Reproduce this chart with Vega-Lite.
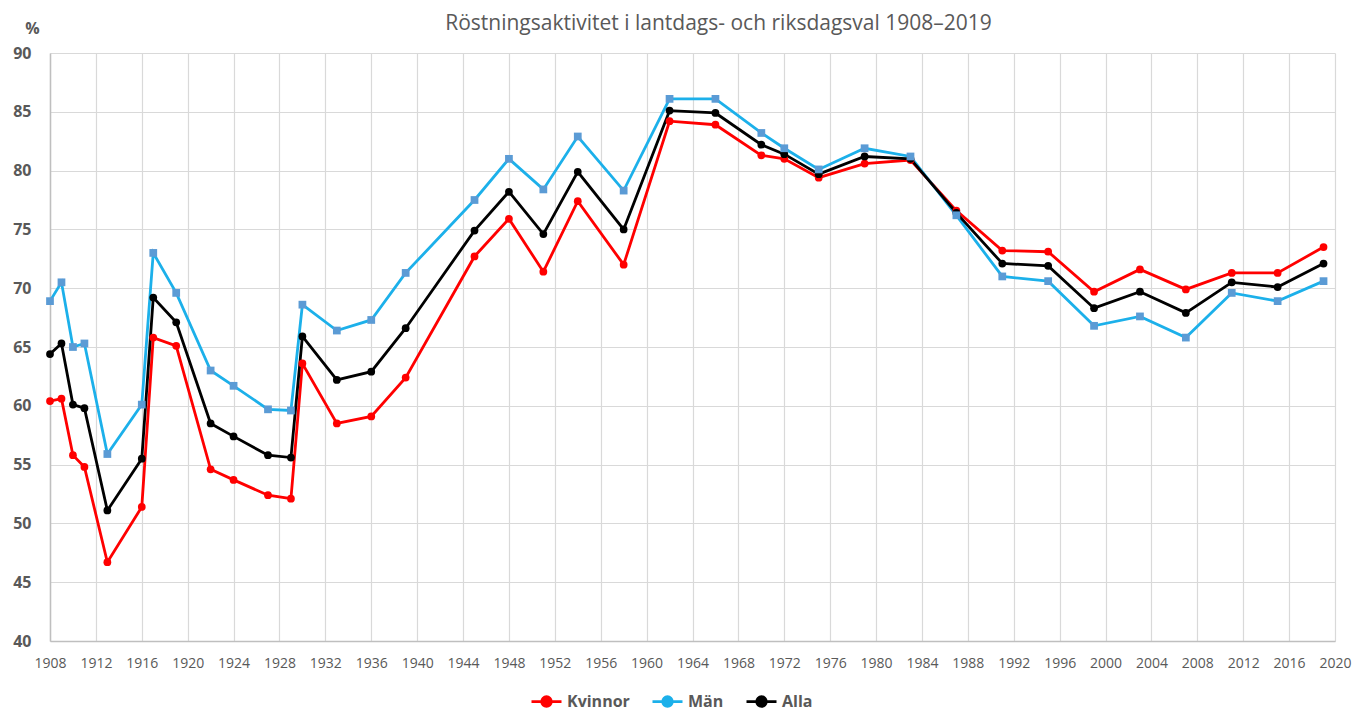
{
  "$schema": "https://vega.github.io/schema/vega-lite/v6.json",
  "width": 1285,
  "height": 588,
  "autosize": {"type": "none"},
  "padding": {"left": 50, "top": 53, "right": 33, "bottom": 70},
  "background": "white",
  "title": {
    "text": "Röstningsaktivitet i lantdags- och riksdagsval 1908–2019",
    "font": "Open Sans",
    "fontSize": 21,
    "fontWeight": "normal",
    "color": "#595959",
    "dx": 26,
    "offset": -14
  },
  "config": {
    "view": {"stroke": null},
    "font": "Open Sans"
  },
  "data": {
    "values": [
      {"year": 1908, "group": "Kvinnor", "value": 60.4}, {"year": 1908, "group": "Män", "value": 68.9}, {"year": 1908, "group": "Alla", "value": 64.4},
      {"year": 1909, "group": "Kvinnor", "value": 60.6}, {"year": 1909, "group": "Män", "value": 70.5}, {"year": 1909, "group": "Alla", "value": 65.3},
      {"year": 1910, "group": "Kvinnor", "value": 55.8}, {"year": 1910, "group": "Män", "value": 65.0}, {"year": 1910, "group": "Alla", "value": 60.1},
      {"year": 1911, "group": "Kvinnor", "value": 54.8}, {"year": 1911, "group": "Män", "value": 65.3}, {"year": 1911, "group": "Alla", "value": 59.8},
      {"year": 1913, "group": "Kvinnor", "value": 46.7}, {"year": 1913, "group": "Män", "value": 55.9}, {"year": 1913, "group": "Alla", "value": 51.1},
      {"year": 1916, "group": "Kvinnor", "value": 51.4}, {"year": 1916, "group": "Män", "value": 60.1}, {"year": 1916, "group": "Alla", "value": 55.5},
      {"year": 1917, "group": "Kvinnor", "value": 65.8}, {"year": 1917, "group": "Män", "value": 73.0}, {"year": 1917, "group": "Alla", "value": 69.2},
      {"year": 1919, "group": "Kvinnor", "value": 65.1}, {"year": 1919, "group": "Män", "value": 69.6}, {"year": 1919, "group": "Alla", "value": 67.1},
      {"year": 1922, "group": "Kvinnor", "value": 54.6}, {"year": 1922, "group": "Män", "value": 63.0}, {"year": 1922, "group": "Alla", "value": 58.5},
      {"year": 1924, "group": "Kvinnor", "value": 53.7}, {"year": 1924, "group": "Män", "value": 61.7}, {"year": 1924, "group": "Alla", "value": 57.4},
      {"year": 1927, "group": "Kvinnor", "value": 52.4}, {"year": 1927, "group": "Män", "value": 59.7}, {"year": 1927, "group": "Alla", "value": 55.8},
      {"year": 1929, "group": "Kvinnor", "value": 52.1}, {"year": 1929, "group": "Män", "value": 59.6}, {"year": 1929, "group": "Alla", "value": 55.6},
      {"year": 1930, "group": "Kvinnor", "value": 63.6}, {"year": 1930, "group": "Män", "value": 68.6}, {"year": 1930, "group": "Alla", "value": 65.9},
      {"year": 1933, "group": "Kvinnor", "value": 58.5}, {"year": 1933, "group": "Män", "value": 66.4}, {"year": 1933, "group": "Alla", "value": 62.2},
      {"year": 1936, "group": "Kvinnor", "value": 59.1}, {"year": 1936, "group": "Män", "value": 67.3}, {"year": 1936, "group": "Alla", "value": 62.9},
      {"year": 1939, "group": "Kvinnor", "value": 62.4}, {"year": 1939, "group": "Män", "value": 71.3}, {"year": 1939, "group": "Alla", "value": 66.6},
      {"year": 1945, "group": "Kvinnor", "value": 72.7}, {"year": 1945, "group": "Män", "value": 77.5}, {"year": 1945, "group": "Alla", "value": 74.9},
      {"year": 1948, "group": "Kvinnor", "value": 75.9}, {"year": 1948, "group": "Män", "value": 81.0}, {"year": 1948, "group": "Alla", "value": 78.2},
      {"year": 1951, "group": "Kvinnor", "value": 71.4}, {"year": 1951, "group": "Män", "value": 78.4}, {"year": 1951, "group": "Alla", "value": 74.6},
      {"year": 1954, "group": "Kvinnor", "value": 77.4}, {"year": 1954, "group": "Män", "value": 82.9}, {"year": 1954, "group": "Alla", "value": 79.9},
      {"year": 1958, "group": "Kvinnor", "value": 72.0}, {"year": 1958, "group": "Män", "value": 78.3}, {"year": 1958, "group": "Alla", "value": 75.0},
      {"year": 1962, "group": "Kvinnor", "value": 84.2}, {"year": 1962, "group": "Män", "value": 86.1}, {"year": 1962, "group": "Alla", "value": 85.1},
      {"year": 1966, "group": "Kvinnor", "value": 83.9}, {"year": 1966, "group": "Män", "value": 86.1}, {"year": 1966, "group": "Alla", "value": 84.9},
      {"year": 1970, "group": "Kvinnor", "value": 81.3}, {"year": 1970, "group": "Män", "value": 83.2}, {"year": 1970, "group": "Alla", "value": 82.2},
      {"year": 1972, "group": "Kvinnor", "value": 81.0}, {"year": 1972, "group": "Män", "value": 81.9}, {"year": 1972, "group": "Alla", "value": 81.4},
      {"year": 1975, "group": "Kvinnor", "value": 79.4}, {"year": 1975, "group": "Män", "value": 80.1}, {"year": 1975, "group": "Alla", "value": 79.7},
      {"year": 1979, "group": "Kvinnor", "value": 80.6}, {"year": 1979, "group": "Män", "value": 81.9}, {"year": 1979, "group": "Alla", "value": 81.2},
      {"year": 1983, "group": "Kvinnor", "value": 80.9}, {"year": 1983, "group": "Män", "value": 81.2}, {"year": 1983, "group": "Alla", "value": 81.0},
      {"year": 1987, "group": "Kvinnor", "value": 76.6}, {"year": 1987, "group": "Män", "value": 76.2}, {"year": 1987, "group": "Alla", "value": 76.4},
      {"year": 1991, "group": "Kvinnor", "value": 73.2}, {"year": 1991, "group": "Män", "value": 71.0}, {"year": 1991, "group": "Alla", "value": 72.1},
      {"year": 1995, "group": "Kvinnor", "value": 73.1}, {"year": 1995, "group": "Män", "value": 70.6}, {"year": 1995, "group": "Alla", "value": 71.9},
      {"year": 1999, "group": "Kvinnor", "value": 69.7}, {"year": 1999, "group": "Män", "value": 66.8}, {"year": 1999, "group": "Alla", "value": 68.3},
      {"year": 2003, "group": "Kvinnor", "value": 71.6}, {"year": 2003, "group": "Män", "value": 67.6}, {"year": 2003, "group": "Alla", "value": 69.7},
      {"year": 2007, "group": "Kvinnor", "value": 69.9}, {"year": 2007, "group": "Män", "value": 65.8}, {"year": 2007, "group": "Alla", "value": 67.9},
      {"year": 2011, "group": "Kvinnor", "value": 71.3}, {"year": 2011, "group": "Män", "value": 69.6}, {"year": 2011, "group": "Alla", "value": 70.5},
      {"year": 2015, "group": "Kvinnor", "value": 71.3}, {"year": 2015, "group": "Män", "value": 68.9}, {"year": 2015, "group": "Alla", "value": 70.1},
      {"year": 2019, "group": "Kvinnor", "value": 73.5}, {"year": 2019, "group": "Män", "value": 70.6}, {"year": 2019, "group": "Alla", "value": 72.1}
    ]
  },
  "encoding": {
    "x": {
      "field": "year",
      "type": "quantitative",
      "scale": {"domain": [1908, 2020], "nice": false, "zero": false},
      "axis": {
        "title": null,
        "values": [1908, 1912, 1916, 1920, 1924, 1928, 1932, 1936, 1940, 1944, 1948, 1952, 1956, 1960, 1964, 1968, 1972, 1976, 1980, 1984, 1988, 1992, 1996, 2000, 2004, 2008, 2012, 2016, 2020],
        "format": "d",
        "labelFontSize": 14,
        "labelColor": "#595959",
        "labelFont": "Open Sans",
        "labelPadding": 15,
        "ticks": false,
        "domainColor": "#BFBFBF",
        "domainWidth": 1.5,
        "gridColor": "#D9D9D9",
        "gridWidth": 1.2,
        "labelFlush": false
      }
    },
    "y": {
      "field": "value",
      "type": "quantitative",
      "scale": {"domain": [40, 90], "nice": false, "zero": false},
      "axis": {
        "title": "%",
        "titleAngle": 0,
        "titleX": -18,
        "titleY": -17,
        "titleFontSize": 16,
        "titleFontWeight": "bold",
        "titleColor": "#595959",
        "titleFont": "Open Sans",
        "values": [40, 45, 50, 55, 60, 65, 70, 75, 80, 85, 90],
        "labelFontSize": 16,
        "labelFontWeight": "bold",
        "labelColor": "#595959",
        "labelFont": "Open Sans",
        "labelPadding": 19,
        "ticks": false,
        "domainColor": "#BFBFBF",
        "domainWidth": 1.5,
        "gridColor": "#D9D9D9",
        "gridWidth": 1.2
      }
    }
  },
  "layer": [
    {
      "mark": {"type": "line", "strokeWidth": 2.8},
      "encoding": {
        "color": {
          "field": "group",
          "type": "nominal",
          "scale": {"domain": ["Kvinnor", "Män", "Alla"], "range": ["#FF0000", "#1CB0EA", "#000000"]},
          "legend": {
            "title": null,
            "orient": "none",
            "legendX": 480,
            "legendY": 632,
            "direction": "horizontal",
            "labelFontSize": 16,
            "labelFontWeight": "bold",
            "labelColor": "#595959",
            "labelFont": "Open Sans",
            "symbolType": "M-1,0L1,0M-0.32,0A0.32,0.32 0 1,1 0.32,0A0.32,0.32 0 1,1 -0.32,0Z",
            "symbolSize": 900,
            "symbolStrokeWidth": 2.8,
            "columnPadding": 16,
            "labelOffset": 4
          }
        },
        "detail": {"field": "group"}
      }
    },
    {
      "transform": [{"filter": "datum.group !== 'Män'"}],
      "mark": {"type": "point", "shape": "circle", "filled": true, "size": 60, "opacity": 1},
      "encoding": {
        "color": {"field": "group", "type": "nominal", "legend": null}
      }
    },
    {
      "transform": [{"filter": "datum.group === 'Män'"}],
      "mark": {"type": "point", "shape": "square", "filled": true, "size": 60, "opacity": 1, "color": "#5B9BD5"}
    }
  ]
}
